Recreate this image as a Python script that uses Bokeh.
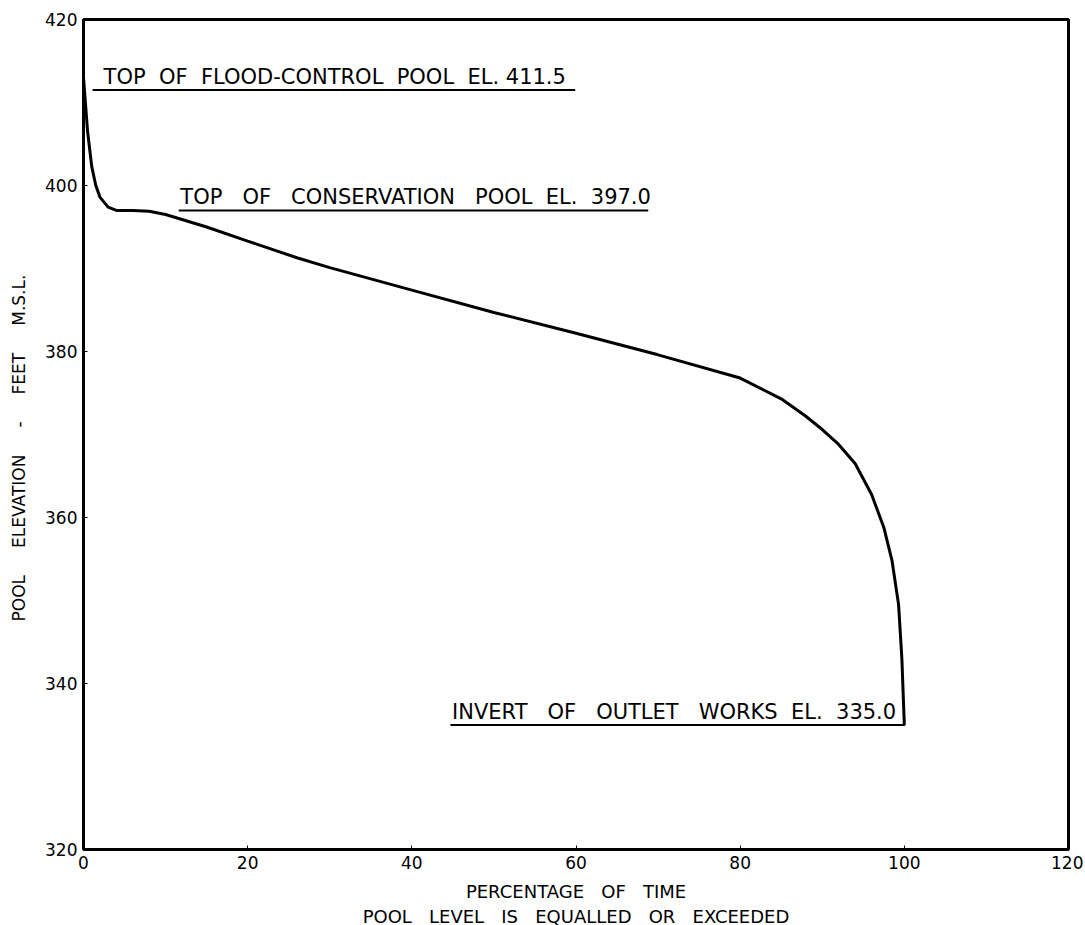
from bokeh.plotting import figure
from bokeh.models import Range1d, FixedTicker, ColumnDataSource
from bokeh.core.properties import value
from bokeh.embed import file_html
from bokeh.resources import INLINE

S = "\u00a0"  # non-breaking space, keeps the wide lettering gaps

# Duration curve: percentage of time vs pool elevation
pct = [0, 0.5, 1, 1.5, 2, 3, 4, 6, 8, 10, 15, 20, 26, 30, 40, 50, 60, 70, 80,
       85, 88, 90, 92, 94, 96, 97.5, 98.5, 99.3, 99.7, 100]
elev = [413, 406.5, 402.3, 400, 398.6, 397.4, 397.0, 397.0, 396.9, 396.5, 395.0,
        393.3, 391.3, 390.1, 387.4, 384.7, 382.2, 379.6, 376.8,
        374.3, 372.2, 370.6, 368.8, 366.5, 362.8, 358.8, 354.8, 349.5, 343.0, 335.0]

label_texts = ["TOP" + S*2 + "OF" + S*2 + "FLOOD-CONTROL" + S*2 + "POOL" + S*2 + "EL." + S + "411.5",
               "TOP" + S*3 + "OF" + S*3 + "CONSERVATION" + S*3 + "POOL" + S*2 + "EL." + S*2 + "397.0",
               "INVERT" + S*3 + "OF" + S*3 + "OUTLET" + S*3 + "WORKS" + S*2 + "EL." + S*2 + "335.0"]
label_elev = [411.5, 397.0, 335.0]
label_tx = [2.45, 11.8, 44.9]
label_x0 = [1.1, 11.6, 44.7]
label_x1 = [59.9, 68.8, 100.1]

x_ticks = [0, 20, 40, 60, 80, 100, 120]
y_ticks = [320, 340, 360, 380, 400, 420]

x_title = ("PERCENTAGE" + S*3 + "OF" + S*3 + "TIME\n"
           "POOL" + S*3 + "LEVEL" + S*3 + "IS" + S*3 + "EQUALLED" + S*3 + "OR" + S*3 + "EXCEEDED")
y_title = "POOL" + S*5 + "ELEVATION" + S*5 + "-" + S*5 + "FEET" + S*5 + "M.S.L." + S*5

FONT = "DejaVu Sans"

p = figure(output_backend="svg", toolbar_location=None,
           frame_width=985, frame_height=830,
           min_border_left=83, min_border_top=19, min_border_right=15,
           min_border_bottom=74,
           x_range=Range1d(0, 120), y_range=Range1d(320, 420))

p.background_fill_color = "white"
p.border_fill_color = "white"
p.grid.visible = False
p.outline_line_color = "black"
p.outline_line_width = 3

for ax in (p.xaxis[0], p.yaxis[0]):
    ax.axis_line_color = "black"
    ax.axis_line_width = 3
    ax.major_tick_in = 4
    ax.major_tick_out = 0
    ax.minor_tick_line_color = None
    ax.major_tick_line_color = "black"
    ax.major_tick_line_width = 1
    ax.major_label_text_font = FONT
    ax.major_label_text_font_size = "17px"
    ax.major_label_text_color = "black"
    ax.axis_label_text_font = FONT
    ax.axis_label_text_font_style = "normal"
    ax.axis_label_text_color = "black"

p.xaxis.ticker = FixedTicker(ticks=x_ticks)
p.yaxis.ticker = FixedTicker(ticks=y_ticks)
p.xaxis.major_label_standoff = 6
p.yaxis.major_label_standoff = 6
p.xaxis.axis_label = x_title
p.xaxis.axis_label_text_font_size = "18px"
p.xaxis.axis_label_standoff = 9
p.yaxis.axis_label = y_title
p.yaxis.axis_label_text_font_size = "17px"
p.yaxis.axis_label_standoff = 13

p.line(pct, elev, line_color="black", line_width=3)

src = ColumnDataSource(dict(tx=label_tx, x0=label_x0, x1=label_x1, y=label_elev, t=label_texts))
p.segment(x0="x0", y0="y", x1="x1", y1="y", source=src, line_color="black", line_width=2)
p.text(x="tx", y="y", text="t", source=src, y_offset=-13,
       text_font=value(FONT), text_font_size="21px", text_color="black",
       text_baseline="alphabetic", text_align="left")

open("out.html", "w").write(file_html(p, INLINE))
